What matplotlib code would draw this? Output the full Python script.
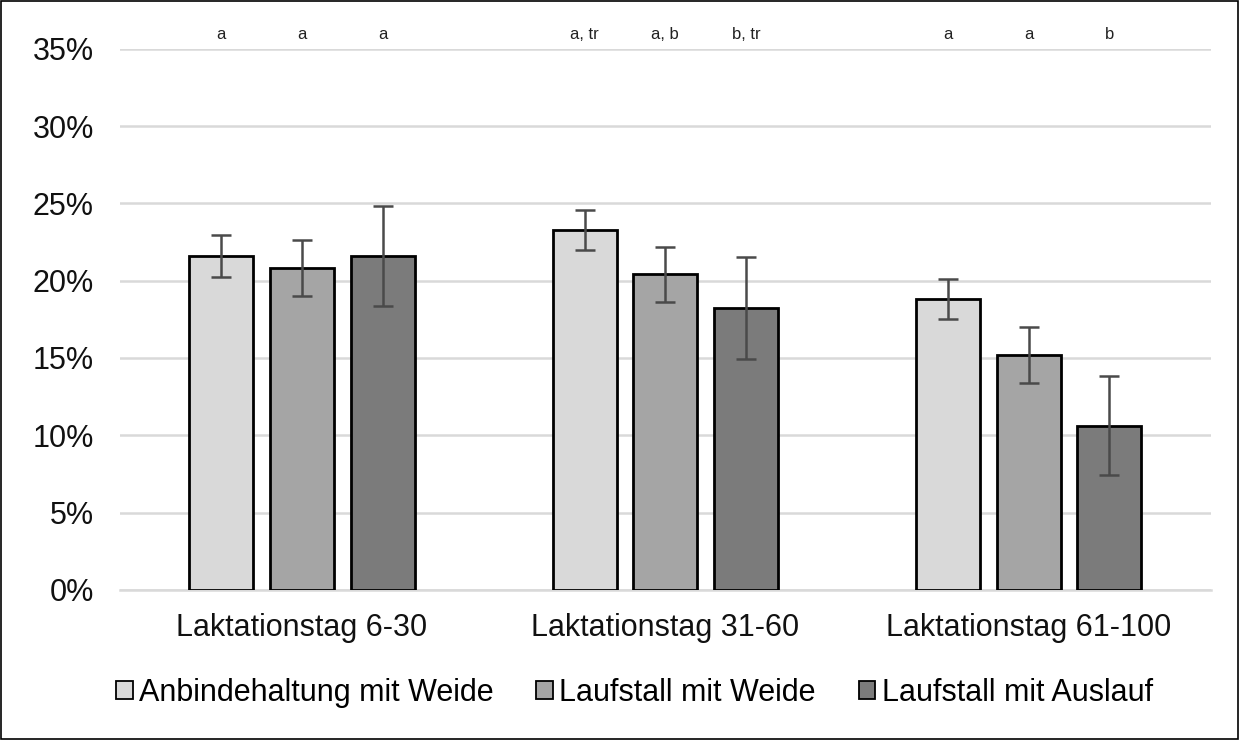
import matplotlib.pyplot as plt
import numpy as np
from matplotlib.patches import Rectangle
from matplotlib.ticker import PercentFormatter

plt.rcParams['font.family'] = ['Liberation Sans', 'DejaVu Sans']

categories = ['Laktationstag 6-30', 'Laktationstag 31-60', 'Laktationstag 61-100']
series = ['Anbindehaltung mit Weide', 'Laufstall mit Weide', 'Laufstall mit Auslauf']
values = [
    [21.6, 23.3, 18.8],
    [20.8, 20.4, 15.2],
    [21.6, 18.2, 10.6],
]
errors = [
    [1.35, 1.3, 1.3],
    [1.8, 1.8, 1.8],
    [3.25, 3.3, 3.2],
]
letters = [
    ['a', 'a, tr', 'a'],
    ['a', 'a, b', 'a'],
    ['a', 'b, tr', 'b'],
]
colors = ['#d9d9d9', '#a5a5a5', '#7b7b7b']

fig = plt.figure(figsize=(12.39, 7.40), dpi=100)
ax = fig.add_axes([0.097, 0.203, 0.88, 0.731])

x = np.arange(len(categories))
width = 0.176
offset = 0.222
for i, name in enumerate(series):
    pos = x + (i - 1) * offset
    ax.bar(pos, values[i], width, color=colors[i], edgecolor='black', lw=2,
           label=name, zorder=3)
    ax.errorbar(pos, values[i], yerr=errors[i], fmt='none', ecolor='#4a4a4a',
                elinewidth=1.8, capsize=7, capthick=1.8, zorder=4)
    for p, t in zip(pos, letters[i]):
        ax.text(p, 35.9, t, ha='center', va='center', fontsize=12, color='#222222')

ax.set_xlim(-0.5, 2.5)
ax.set_ylim(0, 35)
ax.set_yticks(np.arange(0, 36, 5))
ax.yaxis.set_major_formatter(PercentFormatter(decimals=0))
ax.set_xticks(x)
ax.set_xticklabels(categories)
ax.tick_params(axis='both', length=0, labelsize=22, colors='#111111')
ax.tick_params(axis='x', pad=17)
ax.tick_params(axis='y', pad=19)
ax.grid(axis='y', color='#d9d9d9', lw=1.8, zorder=0)
for s in ['top', 'right', 'left']:
    ax.spines[s].set_visible(False)
ax.spines['bottom'].set_color('#d9d9d9')
ax.spines['bottom'].set_linewidth(1.8)

leg = ax.legend(loc='center', bbox_to_anchor=(0.512, 0.064), bbox_transform=fig.transFigure,
                ncol=3, frameon=False, fontsize=22, handlelength=0.55, handleheight=0.55,
                handletextpad=0.2, columnspacing=1.4)
for h in leg.legend_handles:
    h.set_linewidth(1.3)

fig.patches.append(Rectangle((0.001, 0.001), 0.998, 0.998, transform=fig.transFigure,
                             fill=False, edgecolor='black', lw=1.2))

fig.savefig('out.png', dpi=100)
